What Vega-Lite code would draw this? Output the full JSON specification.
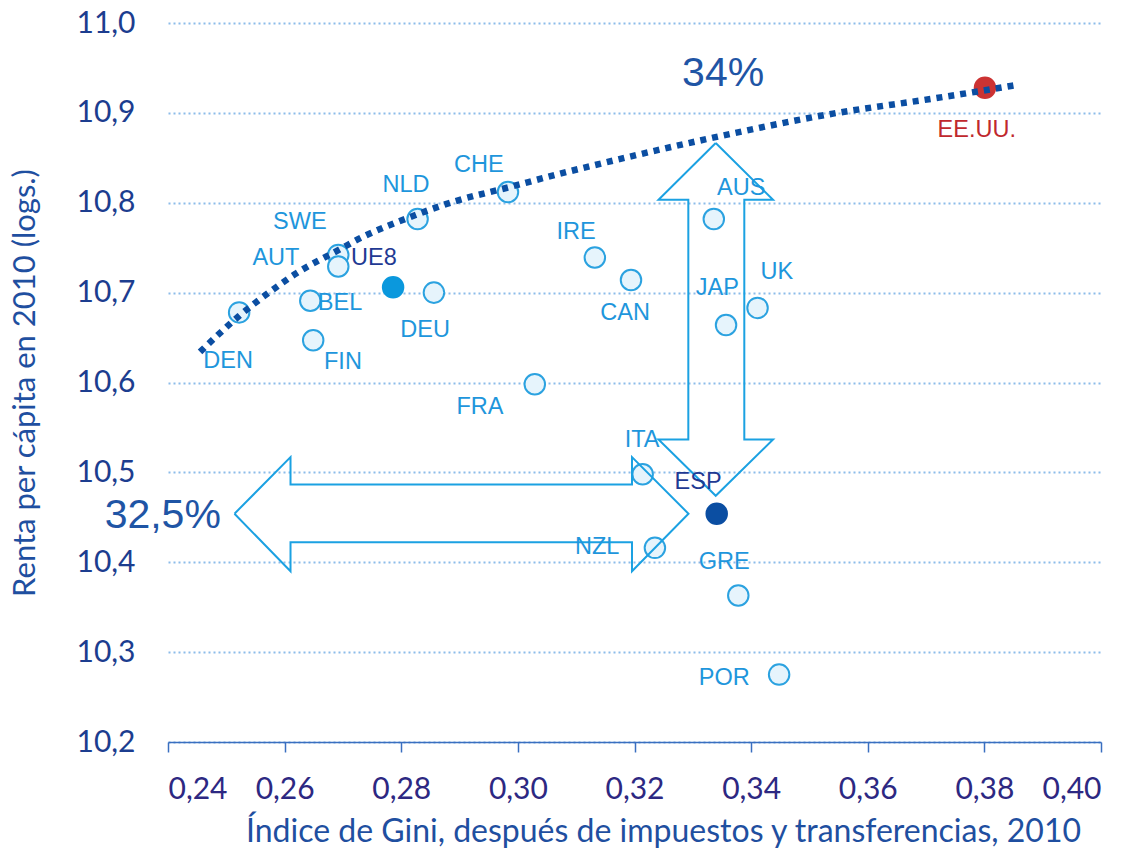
{
  "$schema": "https://vega.github.io/schema/vega-lite/v6.json",
  "width": 933,
  "height": 719,
  "autosize": {"type": "none"},
  "padding": {"left": 168, "top": 23, "right": 33, "bottom": 110},
  "background": "white",
  "config": {
    "view": {"stroke": null},
    "axisY": {
      "domain": false, "ticks": false, "tickSize": 0,
      "labelFont": "Lato", "labelFontSize": 30, "labelColor": "#1c3d8f", "labelPadding": 33,
      "titleFont": "Lato", "titleFontSize": 31, "titleFontWeight": "normal", "titleColor": "#1f4fa0", "titlePadding": 34,
      "grid": true, "gridColor": "#8cbce9", "gridDash": [2, 3], "gridWidth": 2
    },
    "axisX": {
      "domainColor": "#3a6fc0", "domainWidth": 1.5, "tickColor": "#3a6fc0", "tickWidth": 1.5, "tickSize": 10,
      "labelFont": "Lato", "labelFontSize": 30, "labelColor": "#2d2882", "labelPadding": 22,
      "titleFont": "Lato", "titleFontSize": 32, "titleFontWeight": "normal", "titleColor": "#1f4fa0", "titlePadding": 12,
      "grid": false
    }
  },
  "datasets": {
    "paises": [
      {"name": "DEN", "gini": 0.2522, "renta": 10.678, "lx": 0.2503, "ly": 10.624, "grp": "normal"},
      {"name": "SWE", "gini": 0.2692, "renta": 10.742, "lx": 0.2626, "ly": 10.779, "grp": "normal"},
      {"name": "AUT", "gini": 0.2692, "renta": 10.729, "lx": 0.2585, "ly": 10.739, "grp": "normal"},
      {"name": "BEL", "gini": 0.2644, "renta": 10.691, "lx": 0.2695, "ly": 10.689, "grp": "normal"},
      {"name": "FIN", "gini": 0.2649, "renta": 10.647, "lx": 0.2700, "ly": 10.623, "grp": "normal"},
      {"name": "UE8", "gini": 0.2786, "renta": 10.706, "lx": 0.2753, "ly": 10.738, "grp": "ue8"},
      {"name": "DEU", "gini": 0.2856, "renta": 10.700, "lx": 0.2841, "ly": 10.658, "grp": "normal"},
      {"name": "NLD", "gini": 0.2828, "renta": 10.782, "lx": 0.2808, "ly": 10.820, "grp": "normal"},
      {"name": "CHE", "gini": 0.2983, "renta": 10.812, "lx": 0.2933, "ly": 10.842, "grp": "normal"},
      {"name": "FRA", "gini": 0.3029, "renta": 10.598, "lx": 0.2935, "ly": 10.573, "grp": "normal"},
      {"name": "IRE", "gini": 0.3132, "renta": 10.739, "lx": 0.3100, "ly": 10.768, "grp": "normal"},
      {"name": "CAN", "gini": 0.3194, "renta": 10.714, "lx": 0.3184, "ly": 10.677, "grp": "normal"},
      {"name": "ITA", "gini": 0.3214, "renta": 10.498, "lx": 0.3213, "ly": 10.536, "grp": "normal"},
      {"name": "NZL", "gini": 0.3235, "renta": 10.416, "lx": 0.3136, "ly": 10.417, "grp": "normal"},
      {"name": "ESP", "gini": 0.3341, "renta": 10.454, "lx": 0.3309, "ly": 10.489, "grp": "esp"},
      {"name": "AUS", "gini": 0.3336, "renta": 10.782, "lx": 0.3383, "ly": 10.816, "grp": "normal"},
      {"name": "JAP", "gini": 0.3357, "renta": 10.664, "lx": 0.3342, "ly": 10.705, "grp": "normal"},
      {"name": "UK", "gini": 0.3411, "renta": 10.683, "lx": 0.3444, "ly": 10.723, "grp": "normal"},
      {"name": "GRE", "gini": 0.3378, "renta": 10.363, "lx": 0.3354, "ly": 10.400, "grp": "normal"},
      {"name": "POR", "gini": 0.3448, "renta": 10.275, "lx": 0.3354, "ly": 10.271, "grp": "normal"},
      {"name": "EE.UU.", "gini": 0.3801, "renta": 10.928, "lx": 0.3787, "ly": 10.881, "grp": "usa"}
    ],
    "curva": [
      {"gini": 0.24549, "renta": 10.634},
      {"gini": 0.25218, "renta": 10.674},
      {"gini": 0.25749, "renta": 10.701},
      {"gini": 0.26264, "renta": 10.724},
      {"gini": 0.26898, "renta": 10.7465},
      {"gini": 0.27310, "renta": 10.761},
      {"gini": 0.28150, "renta": 10.784},
      {"gini": 0.28888, "renta": 10.801},
      {"gini": 0.29814, "renta": 10.8167},
      {"gini": 0.30723, "renta": 10.8323},
      {"gini": 0.31700, "renta": 10.8479},
      {"gini": 0.33347, "renta": 10.8724},
      {"gini": 0.35405, "renta": 10.8992},
      {"gini": 0.37120, "renta": 10.9159},
      {"gini": 0.37977, "renta": 10.9248},
      {"gini": 0.38594, "renta": 10.9315}
    ],
    "flechas": [
      {"arrow": "h", "ord": 1, "gini": 0.25140, "renta": 10.4540},
      {"arrow": "h", "ord": 2, "gini": 0.26101, "renta": 10.5170},
      {"arrow": "h", "ord": 3, "gini": 0.26101, "renta": 10.4864},
      {"arrow": "h", "ord": 4, "gini": 0.31957, "renta": 10.4864},
      {"arrow": "h", "ord": 5, "gini": 0.31957, "renta": 10.5170},
      {"arrow": "h", "ord": 6, "gini": 0.32926, "renta": 10.4540},
      {"arrow": "h", "ord": 7, "gini": 0.31957, "renta": 10.3900},
      {"arrow": "h", "ord": 8, "gini": 0.31957, "renta": 10.4223},
      {"arrow": "h", "ord": 9, "gini": 0.26101, "renta": 10.4223},
      {"arrow": "h", "ord": 10, "gini": 0.26101, "renta": 10.3900},
      {"arrow": "h", "ord": 11, "gini": 0.25140, "renta": 10.4540},
      {"arrow": "v", "ord": 1, "gini": 0.33393, "renta": 10.8665},
      {"arrow": "v", "ord": 2, "gini": 0.34376, "renta": 10.8033},
      {"arrow": "v", "ord": 3, "gini": 0.33883, "renta": 10.8033},
      {"arrow": "v", "ord": 4, "gini": 0.33883, "renta": 10.5365},
      {"arrow": "v", "ord": 5, "gini": 0.34376, "renta": 10.5365},
      {"arrow": "v", "ord": 6, "gini": 0.33393, "renta": 10.4739},
      {"arrow": "v", "ord": 7, "gini": 0.32412, "renta": 10.5365},
      {"arrow": "v", "ord": 8, "gini": 0.32923, "renta": 10.5365},
      {"arrow": "v", "ord": 9, "gini": 0.32923, "renta": 10.8033},
      {"arrow": "v", "ord": 10, "gini": 0.32412, "renta": 10.8033},
      {"arrow": "v", "ord": 11, "gini": 0.33393, "renta": 10.8665}
    ],
    "porcentajes": [
      {"txt": "34%", "lx": 0.3352, "ly": 10.943},
      {"txt": "32,5%", "lx": 0.2391, "ly": 10.452}
    ]
  },
  "layer": [
    {
      "data": {"name": "paises"},
      "mark": {"type": "point", "filled": true, "shape": "circle", "size": 420, "strokeWidth": 2, "opacity": 1},
      "encoding": {
        "x": {"field": "gini", "type": "quantitative",
          "scale": {"domain": [0.24, 0.40], "nice": false, "zero": false},
          "axis": {"values": [0.24, 0.26, 0.28, 0.30, 0.32, 0.34, 0.36, 0.38, 0.40],
            "labelExpr": "replace(format(datum.value, '.2f'), '.', ',')", "titleX": 495, "titleAnchor": null},
          "title": "Índice de Gini, después de impuestos y transferencias, 2010"},
        "y": {"field": "renta", "type": "quantitative",
          "scale": {"domain": [10.2, 11.0], "nice": false, "zero": false},
          "axis": {"values": [10.2, 10.3, 10.4, 10.5, 10.6, 10.7, 10.8, 10.9, 11.0],
            "labelExpr": "replace(format(datum.value, '.1f'), '.', ',')"},
          "title": "Renta per cápita en 2010 (logs.)"},
        "fill": {"field": "grp", "type": "nominal", "legend": null,
          "scale": {"domain": ["normal", "ue8", "esp", "usa"], "range": ["#e6f4fc", "#0a98dd", "#0b4ea2", "#cc3333"]}},
        "stroke": {"field": "grp", "type": "nominal", "legend": null,
          "scale": {"domain": ["normal", "ue8", "esp", "usa"], "range": ["#2ba2e0", "#0a98dd", "#0b4ea2", "#cc3333"]}}
      }
    },
    {
      "data": {"name": "curva"},
      "mark": {"type": "line", "color": "#0b4ea2", "strokeWidth": 6.5, "strokeDash": [6, 6], "strokeCap": "butt", "interpolate": "monotone"},
      "encoding": {
        "x": {"field": "gini", "type": "quantitative", "scale": {"domain": [0.24, 0.40], "nice": false, "zero": false}, "title": "Índice de Gini, después de impuestos y transferencias, 2010"},
        "y": {"field": "renta", "type": "quantitative", "scale": {"domain": [10.2, 11.0], "nice": false, "zero": false}, "title": "Renta per cápita en 2010 (logs.)"}
      }
    },
    {
      "data": {"name": "flechas"},
      "mark": {"type": "line", "color": "#1ba1e2", "strokeWidth": 2, "strokeJoin": "miter"},
      "encoding": {
        "x": {"field": "gini", "type": "quantitative", "scale": {"domain": [0.24, 0.40], "nice": false, "zero": false}, "title": "Índice de Gini, después de impuestos y transferencias, 2010"},
        "y": {"field": "renta", "type": "quantitative", "scale": {"domain": [10.2, 11.0], "nice": false, "zero": false}, "title": "Renta per cápita en 2010 (logs.)"},
        "detail": {"field": "arrow", "type": "nominal"},
        "order": {"field": "ord", "type": "quantitative"}
      }
    },
    {
      "data": {"name": "paises"},
      "mark": {"type": "text", "font": "Liberation Sans", "fontSize": 23.5, "align": "center", "baseline": "middle"},
      "encoding": {
        "x": {"field": "lx", "type": "quantitative", "scale": {"domain": [0.24, 0.40], "nice": false, "zero": false}, "title": "Índice de Gini, después de impuestos y transferencias, 2010"},
        "y": {"field": "ly", "type": "quantitative", "scale": {"domain": [10.2, 11.0], "nice": false, "zero": false}, "title": "Renta per cápita en 2010 (logs.)"},
        "text": {"field": "name"},
        "color": {"field": "grp", "type": "nominal", "legend": null,
          "scale": {"domain": ["normal", "ue8", "esp", "usa"], "range": ["#1e96dc", "#1f3a93", "#1f3a93", "#c0282d"]}}
      }
    },
    {
      "data": {"name": "porcentajes"},
      "mark": {"type": "text", "font": "Liberation Sans", "fontSize": 41, "align": "center", "baseline": "middle", "color": "#1f55a5"},
      "encoding": {
        "x": {"field": "lx", "type": "quantitative", "scale": {"domain": [0.24, 0.40], "nice": false, "zero": false}, "title": "Índice de Gini, después de impuestos y transferencias, 2010"},
        "y": {"field": "ly", "type": "quantitative", "scale": {"domain": [10.2, 11.0], "nice": false, "zero": false}, "title": "Renta per cápita en 2010 (logs.)"},
        "text": {"field": "txt"}
      }
    }
  ]
}
